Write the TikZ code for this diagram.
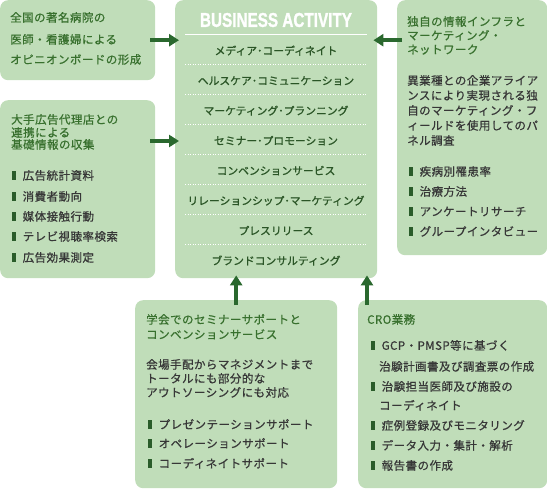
\documentclass[tikz,border=0pt]{standalone}
\usepackage{fontspec}
\usepackage{graphicx}
\usetikzlibrary{arrows.meta,calc}
\newfontfamily\jp[LetterSpace=4,FakeBold=0.7]{Noto Sans CJK JP}
\newfontfamily\jpc[FakeBold=1.1]{Noto Sans CJK JP}
\newfontfamily\headfont[FakeBold=1.5]{Liberation Sans}
\definecolor{boxfill}{RGB}{192,221,185}
\definecolor{titc}{RGB}{56,112,46}
\definecolor{bodyc}{RGB}{55,55,55}
\definecolor{itemc}{RGB}{42,85,38}
\definecolor{arrc}{RGB}{42,104,46}
\definecolor{bulc}{RGB}{42,92,42}
\newcommand\bodyf{\jp\fontsize{11.5pt}{14pt}\selectfont}
\newcommand\itemf{\jpc\fontsize{10.8pt}{13pt}\selectfont}
\newcommand\blt{{\color{bulc}\raisebox{0.3pt}{\rule{3.3pt}{8.5pt}}}\hspace{7.2pt}}
\tikzset{
  box/.style={fill=boxfill, rounded corners=8pt, inner sep=0pt, anchor=north west},
  arr/.style={draw=arrc, line width=4pt, -{Triangle[length=10pt,width=12pt]}},
  tl/.style={anchor=west, inner sep=0pt, text height=0.88em, text depth=0.12em, font=\bodyf, text=titc},
  bl/.style={anchor=west, inner sep=0pt, text height=0.88em, text depth=0.12em, font=\bodyf, text=bodyc},
  ci/.style={anchor=center, inner sep=0pt, text height=0.88em, text depth=0.12em, font=\itemf, text=itemc},
  sep/.style={draw=white, line width=0.8pt, dash pattern=on 1pt off 1.5pt}
}
\begin{document}
\begin{tikzpicture}[x=1pt,y=-1pt]
\useasboundingbox (0,0) rectangle (547,490);
% boxes
\node[box, minimum width=155pt, minimum height=80pt] (A) at (0,0) {};
\node[box, minimum width=202pt, minimum height=278pt] (C) at (175,0) {};
\node[box, minimum width=150pt, minimum height=255pt] (R) at (397,0) {};
\node[box, minimum width=155pt, minimum height=178pt] (L) at (0,100) {};
\node[box, minimum width=202pt, minimum height=188pt] (BL) at (135,300) {};
\node[box, minimum width=189pt, minimum height=188pt] (BR) at (358,300) {};
% center box
\node[inner sep=0pt, text=white] (H) at (276,20) {\resizebox{152pt}{14pt}{\headfont\bfseries BUSINESS ACTIVITY}};
\draw[white, line width=1pt] (185,34) -- (367,34);
\foreach \yy in {64,94,124,154,184,214,244} {\draw[sep] (185,\yy) -- (367,\yy);}
\node[ci] (c1) at (276,51) {メディア･コーディネイト};
\node[ci] (c2) at (276,81) {ヘルスケア･コミュニケーション};
\node[ci] (c3) at (276,111) {マーケティング･プランニング};
\node[ci] (c4) at (276,141) {セミナー･プロモーション};
\node[ci] (c5) at (276,171) {コンベンションサービス};
\node[ci] (c6) at (276,201) {リレーションシップ･マーケティング};
\node[ci] (c7) at (276,231) {プレスリリース};
\node[ci] (c8) at (276,261) {ブランドコンサルティング};
% box A
\node[tl] (a1) at (10,18) {全国の著名病院の};
\node[tl] (a2) at (10,40) {医師・看護婦による};
\node[tl] (a3) at (10,60) {オピニオンボードの形成};
% box L
\node[tl] (l1) at (11,120) {大手広告代理店との};
\node[tl] (l2) at (11,133) {連携による};
\node[tl] (l3) at (11,145) {基礎情報の収集};
\node[bl] (l4) at (12,176) {\blt 広告統計資料};
\node[bl] (l5) at (12,197) {\blt 消費者動向};
\node[bl] (l6) at (12,217) {\blt 媒体接触行動};
\node[bl] (l7) at (12,237) {\blt テレビ視聴率検索};
\node[bl] (l8) at (12,258) {\blt 広告効果測定};
% box R
\node[tl] (r1) at (407,22) {独自の情報インフラと};
\node[tl] (r2) at (407,36) {マーケティング・};
\node[tl] (r3) at (407,50) {ネットワーク};
\node[bl] (r4) at (407,81) {異業種との企業アライア};
\node[bl] (r5) at (407,96) {ンスにより実現される独};
\node[bl] (r6) at (407,111) {自のマーケティング・フ};
\node[bl] (r7) at (407,126) {ィールドを使用してのパ};
\node[bl] (r8) at (407,141) {ネル調査};
\node[bl] (r9) at (409,172) {\blt 疾病別罹患率};
\node[bl] (r10) at (409,192) {\blt 治療方法};
\node[bl] (r11) at (409,212) {\blt アンケートリサーチ};
\node[bl] (r12) at (409,232) {\blt グループインタビュー};
% box BL
\node[tl] (b1) at (146,320) {学会でのセミナーサポートと};
\node[tl] (b2) at (146,335) {コンベンションサービス};
\node[bl] (b3) at (146,365) {会場手配からマネジメントまで};
\node[bl] (b4) at (146,379) {トータルにも部分的な};
\node[bl] (b5) at (146,393) {アウトソーシングにも対応};
\node[bl] (b6) at (148,425) {\blt プレゼンテーションサポート};
\node[bl] (b7) at (148,444) {\blt オペレーションサポート};
\node[bl] (b8) at (148,464) {\blt コーディネイトサポート};
% box BR
\node[tl] (d1) at (367,320) {CRO業務};
\node[bl] (d2) at (371,346) {\blt GCP・PMSP等に基づく};
\node[bl] (d3) at (379,367) {治験計画書及び調査票の作成};
\node[bl] (d4) at (371,387) {\blt 治験担当医師及び施設の};
\node[bl] (d5) at (379,406) {コーディネイト};
\node[bl] (d6) at (371,426) {\blt 症例登録及びモニタリング};
\node[bl] (d7) at (371,446) {\blt データ入力・集計・解析};
\node[bl] (d8) at (371,466) {\blt 報告書の作成};
% arrows
\coordinate (Lo) at ([xshift=-5pt,yshift=-41pt]L.north east);
\coordinate (BRa) at ([xshift=9pt,yshift=-5pt]BR.north west);
\draw[arr] ([xshift=-5pt]A.east) -- ([xshift=4pt]C.west |- A.east);
\draw[arr] (Lo) -- ([xshift=4pt]C.west |- Lo);
\draw[arr] ([xshift=5pt]R.west |- A.east) -- ([xshift=-4pt]C.east |- A.east);
\draw[arr] ([yshift=-5pt]BL.north) -- ([yshift=3pt]C.south -| BL.north);
\draw[arr] (BRa) -- ([yshift=3pt]C.south -| BRa);
\end{tikzpicture}
\end{document}
